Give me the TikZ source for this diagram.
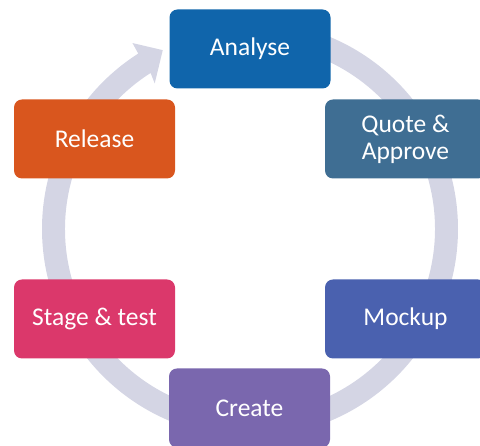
\documentclass[tikz,border=0pt]{standalone}
\usepackage{fontspec}
\setmainfont{Carlito}
\definecolor{ringc}{RGB}{212,213,228}
\definecolor{cAnalyse}{RGB}{16,101,171}
\definecolor{cQuote}{RGB}{63,110,147}
\definecolor{cMockup}{RGB}{74,97,175}
\definecolor{cCreate}{RGB}{122,103,174}
\definecolor{cStage}{RGB}{219,56,107}
\definecolor{cRelease}{RGB}{217,86,30}
\tikzset{
  stagebox/.style={rounded corners=8pt, minimum width=161pt, minimum height=79pt,
    inner sep=0pt, text=white, align=center,
    font=\fontsize{25.5}{27}\selectfont},
}
\begin{document}
\begin{tikzpicture}[x=1pt,y=1pt]
\useasboundingbox (0,0) rectangle (480,446);
\clip (0,0) rectangle (480,446);
\begin{scope}[shift={(250,217)}]
  \fill[ringc] (90:208pt) arc[start angle=90, end angle=-237.5, radius=208pt]
    -- (122.3:220pt) -- (116:199pt) -- (123.2:174pt) -- (122.5:185pt)
    arc[start angle=-237.5, end angle=90, radius=185pt] -- cycle;
\end{scope}
\node[stagebox, fill=cAnalyse] (analyse) at (250,397) {Analyse};
\node[stagebox, fill=cQuote] (quote) at (405.5,307) {Quote \&\\Approve};
\node[stagebox, fill=cMockup] (mockup) at (405.5,127) {Mockup};
\node[stagebox, fill=cCreate] (create) at (249.5,38) {Create};
\node[stagebox, fill=cStage] (stage) at (94.5,127) {Stage \& test};
\node[stagebox, fill=cRelease] (release) at (94.5,307) {Release};
\end{tikzpicture}
\end{document}
